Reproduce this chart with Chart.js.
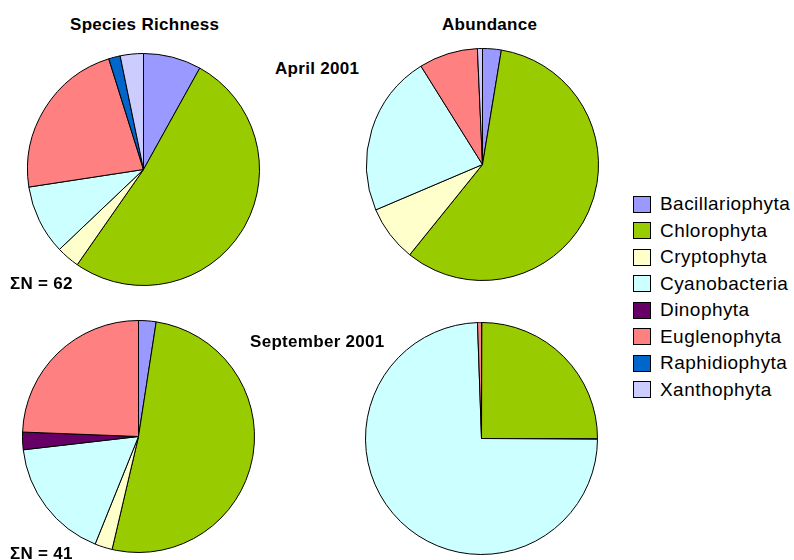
<!DOCTYPE html>
<html>
<head>
<meta charset="utf-8">
<script src="https://cdn.jsdelivr.net/npm/chart.js@4"></script>
<style>
  body { margin: 0; background: #fff; font-family: "Liberation Sans", Arial, sans-serif; }
  #wrap { position: relative; width: 794px; height: 560px; overflow: hidden; }
  canvas { position: absolute; }
  .lbl { position: absolute; font-weight: bold; font-size: 17px; line-height: 19px; letter-spacing: 0.3px; color: #000; white-space: nowrap; }
  #legend { position: absolute; left: 633px; top: 191px; }
  .row { height: 26.5px; display: flex; align-items: center; font-size: 19px; letter-spacing: 0.45px; }
  .box { width: 18px; height: 17px; border: 1px solid #000; margin-right: 9px; box-sizing: border-box; }
</style>
</head>
<body>
<div id="wrap">
  <canvas id="p1" width="233" height="233" style="left:27px;top:53px"></canvas>
  <canvas id="p2" width="233" height="233" style="left:366px;top:48px"></canvas>
  <canvas id="p3" width="233" height="233" style="left:22px;top:320px"></canvas>
  <canvas id="p4" width="233" height="233" style="left:365px;top:322px"></canvas>

  <div class="lbl" style="left:70px;top:15px">Species Richness</div>
  <div class="lbl" style="left:442px;top:15px">Abundance</div>
  <div class="lbl" style="left:275px;top:59px">April 2001</div>
  <div class="lbl" style="left:250px;top:332px">September 2001</div>
  <div class="lbl" style="left:10px;top:274px">ΣN = 62</div>
  <div class="lbl" style="left:10px;top:544px">ΣN = 41</div>

  <div id="legend"></div>
</div>
<script>
const groups = ["Bacillariophyta","Chlorophyta","Cryptophyta","Cyanobacteria","Dinophyta","Euglenophyta","Raphidiophyta","Xanthophyta"];
const colors = ["#9999ff","#99cc00","#ffffcc","#ccffff","#660066","#ff8080","#0066cc","#ccccff"];

// number of species per group
const richnessApril = [5, 32, 2, 6, 0, 14, 1, 2];
const richnessSept  = [1, 21, 1, 7, 1, 10, 0, 0];
// abundance, percent
const abundanceApril = [2.6, 58.2, 7.8, 22.5, 0, 8.2, 0, 0.7];
const abundanceSept  = [0.05, 25.0, 0.05, 74.35, 0, 0.55, 0, 0];

function pie(id, values){
    new Chart(document.getElementById(id), {
        type: 'pie',
        data: {
            labels: groups,
            datasets: [{
                data: values,
                backgroundColor: colors,
                borderColor: '#000',
                borderWidth: 1
            }]
        },
        options: {
            responsive: false,
            animation: false,
            layout: { padding: 0 },
            plugins: { legend: { display: false }, tooltip: { enabled: false } }
        }
    });
}

pie('p1', richnessApril);
pie('p2', abundanceApril);
pie('p3', richnessSept);
pie('p4', abundanceSept);

const legend = document.getElementById('legend');
groups.forEach((g, i) => {
    const row = document.createElement('div');
    row.className = 'row';
    row.innerHTML = '<div class="box" style="background:' + colors[i] + '"></div>' + g;
    legend.appendChild(row);
});
</script>
</body>
</html>
